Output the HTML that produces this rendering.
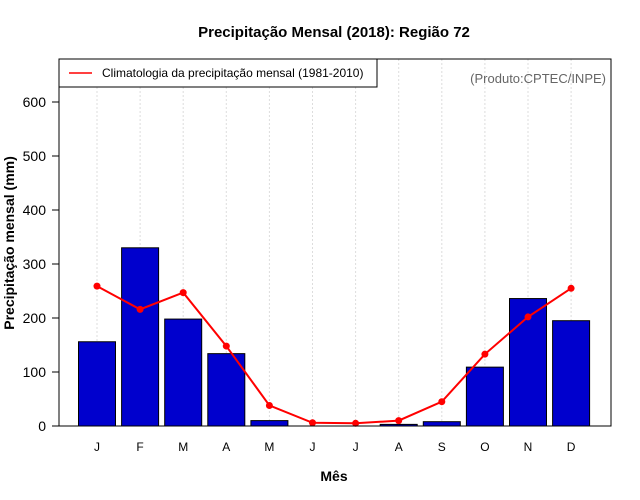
<!DOCTYPE html>
<html><head><meta charset="utf-8"><style>
body{margin:0;background:#fff}
svg{display:block;font-family:"Liberation Sans",sans-serif}
</style></head><body>
<svg id="c" width="640" height="500">
<text x="334" y="37" text-anchor="middle" font-size="15" font-weight="bold">Precipitação Mensal (2018): Região 72</text>
<text x="334" y="481" text-anchor="middle" font-size="14" font-weight="bold">Mês</text>
<text transform="translate(14,243) rotate(-90)" text-anchor="middle" font-size="14" font-weight="bold">Precipitação mensal (mm)</text>
<g id="grid"></g><g id="bars"></g><g id="yax"></g><g id="xax"></g><g id="line"></g>
<rect x="59" y="59" width="552" height="367" fill="none" stroke="#000"/>
<g>
<rect x="59" y="59" width="318" height="28" fill="#fff" stroke="#000"/>
<line x1="69" y1="73" x2="92" y2="73" stroke="red" stroke-width="1.5"/>
<text x="102" y="77" font-size="12">Climatologia da precipitação mensal (1981-2010)</text>
</g>
<text x="606" y="83" text-anchor="end" font-size="13" fill="#666">(Produto:CPTEC/INPE)</text>
</svg>
<script>
const months=["J","F","M","A","M","J","J","A","S","O","N","D"];
const observed=[156,330,198,134,10,0,0,3,8,109,236,195];
const climatology=[259,216,247,148,38,6,5,10,45,133,202,255];
const yTicks=[0,100,200,300,400,500,600];
const NS="http://www.w3.org/2000/svg";
function xs(i){return 97+i*43.1;}
function ys(v){return 426-v*0.54;}
function mk(p,t,a){const e=document.createElementNS(NS,t);for(const k in a)e.setAttribute(k,a[k]);document.getElementById(p).appendChild(e);return e;}
months.forEach((m,i)=>{
 const g=mk("grid","line",{x1:xs(i),x2:xs(i),y1:59,y2:426,stroke:"#ddd","stroke-dasharray":"2,2"});
 
 
 const b=mk("bars","rect",{x:xs(i)-18.5,y:ys(observed[i]),width:37,height:426-ys(observed[i]),fill:"#0000cd",stroke:"#000"});
 
 
 const t=mk("xax","text",{x:xs(i),y:451,"text-anchor":"middle","font-size":12});
 t.textContent=m;
 
 
});
yTicks.forEach(v=>{
 const l=mk("yax","line",{x1:52,x2:59,y1:ys(v),y2:ys(v),stroke:"#000"});
 
 
 const t=mk("yax","text",{x:46,y:ys(v)+5,"text-anchor":"end","font-size":14});
 t.textContent=v;
 
 
});
const pl=mk("line","polyline",{points:climatology.map((v,i)=>xs(i)+","+ys(v)).join(" "),fill:"none",stroke:"red","stroke-width":2});


climatology.forEach((v,i)=>{
 const c=mk("line","circle",{cx:xs(i),cy:ys(v),r:3.5,fill:"red"});
 
 
});
</script>
</body></html>
